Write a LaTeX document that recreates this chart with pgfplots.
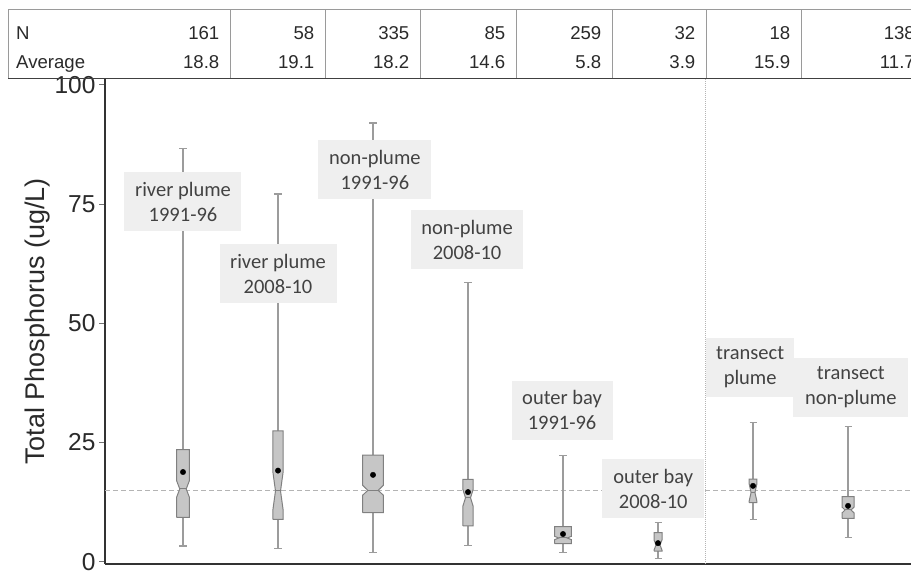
\documentclass[border=0pt]{standalone}
\usepackage{fontspec}
\setmainfont{Liberation Sans}
\newfontfamily\calibri{Carlito}
\usepackage{pgfplots}
\pgfplotsset{compat=1.18}
\definecolor{txt}{HTML}{2A2A2A}
\definecolor{lbltxt}{HTML}{424242}
\definecolor{lblfill}{HTML}{EFEFEF}
\definecolor{boxfill}{HTML}{C6C6C6}
\definecolor{boxedge}{HTML}{808080}
\definecolor{whisk}{HTML}{9C9C9C}
\definecolor{tline}{HTML}{9A9A9A}
\definecolor{refline}{HTML}{B4B4B4}

\begin{document}
\begin{tikzpicture}[x=1pt,y=1pt]
\useasboundingbox (0,0) rectangle (911,572);
\clip (0,0) rectangle (911,572);
% ---- summary table above the plot
\draw[tline, line width=1pt] (8,493.5) -- (8,562) -- (960,562);
\foreach \x in {230,325,420,516,612,706,801}{\draw[tline,line width=1pt] (\x,493.5) -- (\x,562);}
\begin{scope}[font=\fontsize{18.6}{18.6}\selectfont, text=txt]
\node[anchor=base west, inner sep=0pt] at (16,532.7) {N};
\node[anchor=base west, inner sep=0pt] at (16,503.7) {Average};
\foreach \x/\n/\a in {219.5/161/18.8, 314.5/58/19.1, 409.5/335/18.2, 505.5/85/14.6, 601.5/259/5.8, 695.5/32/3.9, 790.5/18/15.9, 915/138/11.7}{
  \node[anchor=base east, inner sep=0pt] at (\x,532.7) {\n};
  \node[anchor=base east, inner sep=0pt] at (\x,503.7) {\a};
}
\end{scope}
\begin{axis}[
  at={(105pt,8pt)}, anchor=south west,
  scale only axis, width=806pt, height=485pt,
  xmin=0.179, xmax=8.663, ymin=-0.48, ymax=101.2,
  axis x line*=bottom, axis y line*=left,
  axis line style={draw=black!80, line width=1.6pt},
  xtick=\empty,
  ytick={0,25,50,75,100},
  tick align=outside, major tick length=6pt,
  ytick style={draw=black!55, line width=0.8pt},
  /pgf/number format/assume math mode=true,
  yticklabel style={font=\fontsize{24.5}{24.5}\selectfont, text=txt},
  ylabel={Total Phosphorus (ug/L)},
  ylabel style={font=\fontsize{27}{27}\selectfont, text=txt, at={(axis description cs:-0.0837,0.5)}, anchor=center},
  unbounded coords=jump,
]
% reference lines
\addplot[refline, line width=0.9pt, dash pattern=on 5pt off 3pt] coordinates {(0.179,15) (8.663,15)};
\addplot[refline, line width=1pt, densely dotted] coordinates {(6.5,-0.48) (6.5,101.2)};
% whiskers (q3 to upper cap, q1 to lower cap) and caps
\addplot[whisk, line width=1.3pt] coordinates {
 (1,23.49)(1,86.56) (1,nan) (1,9.31)(1,3.29) (1,nan)
 (2,27.41)(2,77.06) (2,nan) (2,8.89)(2,2.81) (2,nan)
 (3,22.32)(3,92.0) (3,nan) (3,10.28)(3,1.97) (3,nan)
 (4,17.28)(4,58.6) (4,nan) (4,7.49)(4,3.36) (4,nan)
 (5,7.34)(5,22.23) (5,nan) (5,3.78)(5,1.89) (5,nan)
 (6,6.08)(6,8.18) (6,nan) (6,2.24)(6,0.71) (6,nan)
 (7,17.3)(7,29.15) (7,nan) (7,12.4)(7,8.89) (7,nan)
 (8,13.63)(8,28.31) (8,nan) (8,9.10)(8,5.12)
};
\addplot[whisk, line width=1.3pt] coordinates {
 (0.963,86.56)(1.037,86.56) (1,nan) (0.963,3.29)(1.037,3.29) (1,nan)
 (1.963,77.06)(2.037,77.06) (2,nan) (1.963,2.81)(2.037,2.81) (2,nan)
 (2.963,92.0)(3.037,92.0) (3,nan) (2.963,1.97)(3.037,1.97) (3,nan)
 (3.963,58.6)(4.037,58.6) (4,nan) (3.963,3.36)(4.037,3.36) (4,nan)
 (4.963,22.23)(5.037,22.23) (5,nan) (4.963,1.89)(5.037,1.89) (5,nan)
 (5.963,8.18)(6.037,8.18) (6,nan) (5.963,0.71)(6.037,0.71) (6,nan)
 (6.963,29.15)(7.037,29.15) (7,nan) (6.963,8.89)(7.037,8.89) (7,nan)
 (7.963,28.31)(8.037,28.31) (8,nan) (7.963,5.12)(8.037,5.12)
};
% notched boxes
\addplot[fill=boxfill, draw=boxedge, line width=1pt] coordinates {(0.932,9.31)(0.932,13.48)(0.966,15.25)(0.932,17.02)(0.932,23.49)(1.068,23.49)(1.068,17.02)(1.034,15.25)(1.068,13.48)(1.068,9.31)(0.932,9.31)};
\addplot[fill=boxfill, draw=boxedge, line width=1pt] coordinates {(1.947,8.89)(1.947,10.99)(1.9735,14.83)(1.947,18.67)(1.947,27.41)(2.053,27.41)(2.053,18.67)(2.0265,14.83)(2.053,10.99)(2.053,8.89)(1.947,8.89)};
\addplot[fill=boxfill, draw=boxedge, line width=1pt] coordinates {(2.891,10.28)(2.891,13.93)(2.9455,14.97)(2.891,16.01)(2.891,22.32)(3.109,22.32)(3.109,16.01)(3.0545,14.97)(3.109,13.93)(3.109,10.28)(2.891,10.28)};
\addplot[fill=boxfill, draw=boxedge, line width=1pt] coordinates {(3.947,7.49)(3.947,11.7)(3.9735,13.4)(3.947,15.1)(3.947,17.28)(4.053,17.28)(4.053,15.1)(4.0265,13.4)(4.053,11.7)(4.053,7.49)(3.947,7.49)};
\addplot[fill=boxfill, draw=boxedge, line width=1pt] coordinates {(4.911,3.78)(4.911,4.62)(4.9555,4.97)(4.911,5.32)(4.911,7.34)(5.089,7.34)(5.089,5.32)(5.0445,4.97)(5.089,4.62)(5.089,3.78)(4.911,3.78)};
\addplot[fill=boxfill, draw=boxedge, line width=1pt] coordinates {(5.958,2.24)(5.958,2.43)(5.979,3.5)(5.958,4.57)(5.958,6.08)(6.042,6.08)(6.042,4.57)(6.021,3.5)(6.042,2.43)(6.042,2.24)(5.958,2.24)};
\addplot[fill=boxfill, draw=boxedge, line width=1pt] coordinates {(6.959,12.4)(6.959,12.65)(6.9795,14.5)(6.959,16.35)(6.959,17.3)(7.041,17.3)(7.041,16.35)(7.0205,14.5)(7.041,12.65)(7.041,12.4)(6.959,12.4)};
\addplot[fill=boxfill, draw=boxedge, line width=1pt] coordinates {(7.937,9.10)(7.937,10.23)(7.9685,10.84)(7.937,11.45)(7.937,13.63)(8.063,13.63)(8.063,11.45)(8.0315,10.84)(8.063,10.23)(8.063,9.10)(7.937,9.10)};
% medians
\addplot[boxedge, line width=1pt] coordinates {
 (0.966,15.25)(1.034,15.25) (1,nan) (1.9735,14.83)(2.0265,14.83) (2,nan)
 (2.9455,14.97)(3.0545,14.97) (3,nan) (3.9735,13.4)(4.0265,13.4) (4,nan)
 (4.9555,4.97)(5.0445,4.97) (5,nan) (5.979,3.5)(6.021,3.5) (6,nan)
 (6.9795,14.5)(7.0205,14.5) (7,nan) (7.9685,10.84)(8.0315,10.84)
};
% means
\addplot[only marks, mark=*, mark size=2.7pt, black] coordinates {
 (1,18.8)(2,19.1)(3,18.2)(4,14.6)(5,5.8)(6,3.9)(7,15.9)(8,11.7)};
% group labels
\tikzset{lbl/.style={fill=lblfill, text=lbltxt, font=\calibri\fontsize{20.5}{25}\selectfont, align=center, minimum height=59pt, inner sep=0pt}}
\node[lbl, minimum width=117pt] at (axis cs:1.0,75.5) {river plume\\1991-96};
\node[lbl, minimum width=117pt] at (axis cs:2.0,60.4) {river plume\\2008-10};
\node[lbl, minimum width=113pt] at (axis cs:3.02,82.2) {non-plume\\1991-96};
\node[lbl, minimum width=112pt] at (axis cs:3.99,67.5) {non-plume\\2008-10};
\node[lbl, minimum width=101pt] at (axis cs:4.99,31.75) {outer bay\\1991-96};
\node[lbl, minimum width=102pt] at (axis cs:5.95,15.3) {outer bay\\2008-10};
\node[lbl, minimum width=88pt] at (axis cs:6.97,40.8) {transect\\plume};
\node[lbl, minimum width=115pt] at (axis cs:8.03,36.6) {transect\\non-plume};
\end{axis}
\draw[black!75, line width=1.8pt] (8,493.5) -- (960,493.5);
\end{tikzpicture}
\end{document}
